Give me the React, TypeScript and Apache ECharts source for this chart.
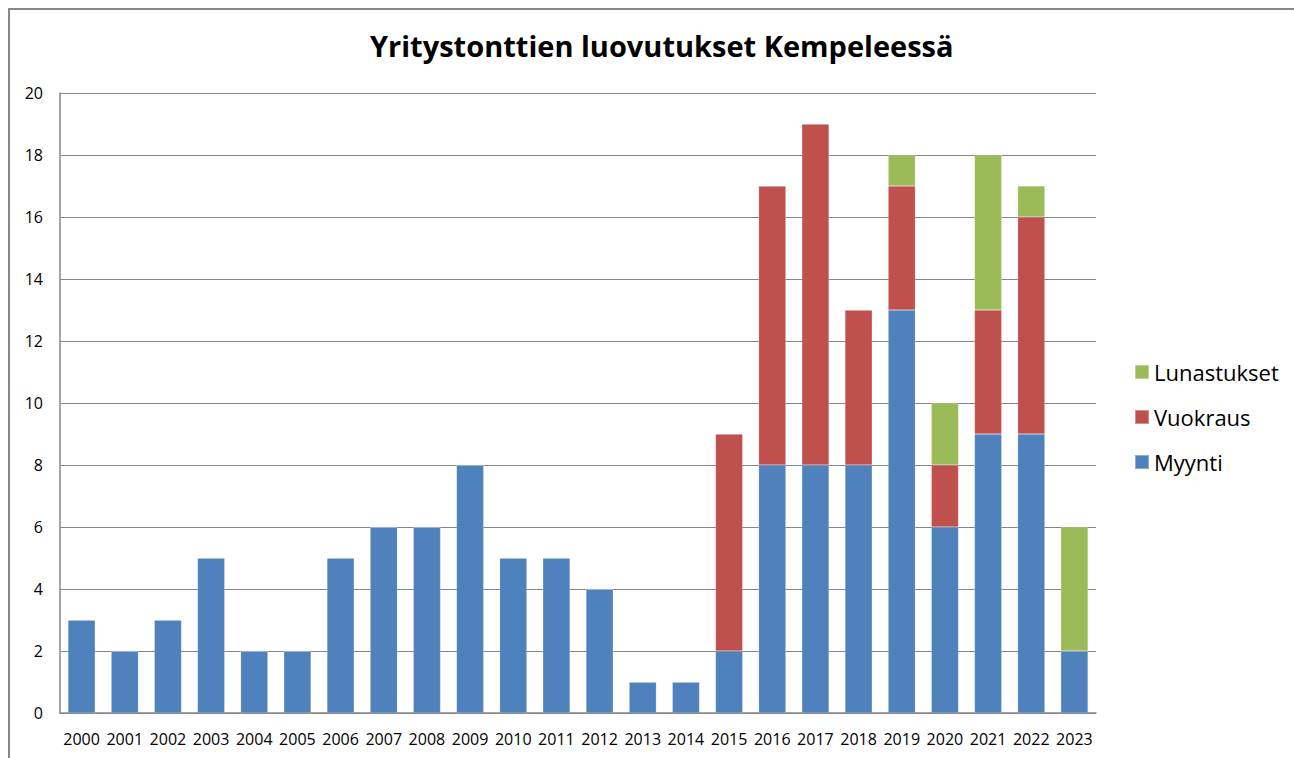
import React, { useEffect, useRef } from "react";
import * as echarts from "echarts";

const years = ["2000","2001","2002","2003","2004","2005","2006","2007","2008","2009","2010","2011","2012","2013","2014","2015","2016","2017","2018","2019","2020","2021","2022","2023"];
const myynti = [3,2,3,5,2,2,5,6,6,8,5,5,4,1,1,2,8,8,8,13,6,9,9,2];
const vuokraus = [0,0,0,0,0,0,0,0,0,0,0,0,0,0,0,7,9,11,5,4,2,4,7,0];
const lunastukset = [0,0,0,0,0,0,0,0,0,0,0,0,0,0,0,0,0,0,0,1,2,5,1,4];

const FONT = "'Open Sans', 'Noto Sans', sans-serif";

export default function App() {
  const ref = useRef<HTMLDivElement>(null);
  useEffect(() => {
    document.body.style.margin = "0";
    const chart = echarts.init(ref.current!, null, { renderer: "svg" });
    const mk = (name: string, data: number[], color: string) => ({
      name,
      type: "bar",
      stack: "total",
      data,
      barCategoryGap: "37%",
      itemStyle: { color, borderColor: "rgba(255,255,255,0.35)", borderWidth: 0.5 },
    });
    chart.setOption({
      animation: false,
      backgroundColor: "#fff",
      textStyle: { fontFamily: FONT },
      title: {
        text: "Yritystonttien luovutukset Kempeleessä",
        left: 365,
        top: 26,
        textStyle: { fontSize: 29, fontWeight: "bold", color: "#000", fontFamily: FONT },
      },
      graphic: [
        {
          type: "rect",
          shape: { x: 9, y: 9, width: 1320, height: 800 },
          style: { fill: "none", stroke: "#888", lineWidth: 2 },
          silent: true,
        },
      ],
      legend: {
        orient: "vertical",
        left: 1129,
        top: 355,
        itemWidth: 14,
        itemHeight: 14,
        itemGap: 21,
        icon: "rect",
        data: ["Lunastukset", "Vuokraus", "Myynti"],
        textStyle: { fontSize: 22, lineHeight: 24, color: "#000", fontFamily: FONT, padding: [0, 0, 0, 0] },
      },
      grid: { left: 60, top: 93, width: 1036, height: 620, containLabel: false },
      xAxis: {
        type: "category",
        data: years,
        axisLine: { lineStyle: { color: "#868686", width: 1.5 } },
        axisTick: { show: false },
        axisLabel: { fontSize: 16, color: "#000", margin: 18, interval: 0, fontFamily: FONT },
      },
      yAxis: {
        type: "value",
        min: 0,
        max: 20,
        interval: 2,
        axisLine: { show: true, lineStyle: { color: "#868686", width: 1.5 } },
        axisTick: { show: false },
        splitLine: { lineStyle: { color: "#868686", width: 1.2 } },
        axisLabel: { fontSize: 16, color: "#000", margin: 17, fontFamily: FONT },
      },
      series: [
        mk("Myynti", myynti, "#4F81BD"),
        mk("Vuokraus", vuokraus, "#C0504D"),
        mk("Lunastukset", lunastukset, "#9BBB59"),
      ],
    });
    return () => chart.dispose();
  }, []);
  return <div ref={ref} style={{ width: 1294, height: 758 }} />;
}
